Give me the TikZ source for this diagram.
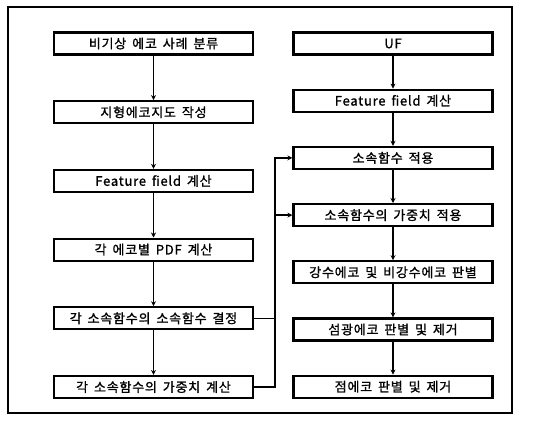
\documentclass[tikz,border=0pt]{standalone}
\usepackage{fontspec}
\setmainfont{Noto Sans CJK KR}[LetterSpace=6,WordSpace=1.6,FakeBold=1.2]
\usetikzlibrary{positioning}
\usetikzlibrary{arrows.meta}

\begin{document}
\begin{tikzpicture}[x=1pt,y=1pt,->,>={Stealth[length=5pt,width=5pt]},line width=1.6pt,
	step box/.style={rectangle,draw,line width=2.2pt,minimum width=199pt,
		minimum height=22pt,inner sep=0pt,font=\fontsize{13}{15}\selectfont},
	left col/.style={step box,below=44.5pt of #1},
	right col/.style={step box,below=33pt of #1}]
	
	\useasboundingbox (0,0) rectangle (538,-424);
	\draw[-,line width=1.6pt] (8,-7) rectangle (512,-413);
	
	% left column
	\node[step box] (a) at (153.5,-43.5) {비기상 에코 사례 분류};
	\node[left col=a] (b) {지형에코지도 작성};
	\node[left col=b] (c) {Feature field 계산};
	\node[left col=c] (d) {각 에코별 PDF 계산};
	\node[left col=d] (e) {각 소속함수의 소속함수 결정};
	\node[left col=e] (f) {각 소속함수의 가중치 계산};
	
	% right column
	\node[step box] (uf) at (393,-43.5) {UF};
	\node[right col=uf] (r2) {Feature field 계산};
	\node[right col=r2] (r3) {소속함수 적용};
	\node[right col=r3] (r4) {소속함수의 가중치 적용};
	\node[right col=r4] (r5) {강수에코 및 비강수에코 판별};
	\node[right col=r5] (r6) {섬광에코 판별 및 제거};
	\node[right col=r6] (r7) {점에코 판별 및 제거};
	
	\path
	(a) edge (b)
	(b) edge (c)
	(c) edge (d)
	(d) edge (e)
	(e) edge (f)
	(uf) edge (r2)
	(r2) edge (r3)
	(r3) edge (r4)
	(r4) edge (r5)
	(r5) edge (r6)
	(r6) edge (r7);
	
	% bus to right column
	\coordinate (bus) at (275,0);
	\draw[-] (e.east) -- (e.east -| bus);
	\draw (f.east) -- (f.east -| bus) -- (r3.west -| bus) -- (r3.west);
	\draw (r4.west -| bus) -- (r4.west);
\end{tikzpicture}
\end{document}
